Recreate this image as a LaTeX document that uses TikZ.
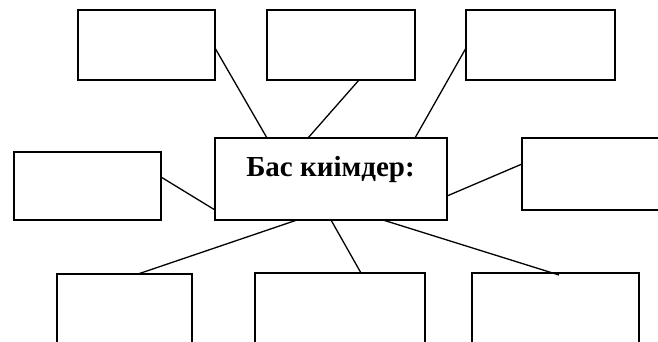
\documentclass[tikz,border=0pt]{standalone}
\usepackage{fontspec}
\setmainfont{Liberation Serif}
\begin{document}
\begin{tikzpicture}[x=1pt,y=-1pt,
  box/.style={draw=black, line width=1.3pt, rectangle, inner sep=0pt, outer sep=0pt, fill=white},
  conn/.style={draw=black, line width=1.3pt},
  lbl/.style={font=\fontsize{29}{31}\selectfont\bfseries, inner sep=0pt, anchor=base}]
\clip (0,0) rectangle (658,341);
\fill[white] (0,0) rectangle (658,341);
\node[box, minimum width=137pt, minimum height=70pt] (tl) at (146.5,45) {};
\node[box, minimum width=148pt, minimum height=70pt] (tm) at (341,45) {};
\node[box, minimum width=149pt, minimum height=70pt] (tr) at (540.5,45) {};
\node[box, minimum width=232pt, minimum height=82pt] (c) at (331,179) {};
\node[box, minimum width=147pt, minimum height=68pt] (l) at (87.5,186) {};
\node[box, minimum width=158pt, minimum height=72pt] (r) at (601,174) {};
\node[box, minimum width=135pt, minimum height=106pt] (bl) at (124.5,327) {};
\node[box, minimum width=170pt, minimum height=107pt] (bm) at (340,326.5) {};
\node[box, minimum width=167pt, minimum height=107pt] (br) at (555.5,326.5) {};
\node[lbl] (ctext) at (330.5,176.5) {Бас киімдер:};
\draw[conn] ([yshift=-3pt]tl.east) -- ([xshift=52pt]c.north west);
\draw[conn] ([xshift=18pt]tm.south) -- ([xshift=-23pt]c.north);
\draw[conn] ([yshift=-3pt]tr.west) -- ([xshift=84pt]c.north);
\draw[conn] ([yshift=9pt]l.east) -- ([yshift=-31pt]c.west);
\draw[conn] ([yshift=-17pt]c.east) -- ([yshift=10pt]r.west);
\draw[conn] ([xshift=-34pt]c.south) -- ([xshift=13.5pt]bl.north);
\draw[conn] (c.south) -- ([xshift=21pt]bm.north);
\draw[conn] ([xshift=52pt]c.south) -- ([xshift=3.5pt,yshift=-2pt]br.north);
\end{tikzpicture}
\end{document}
